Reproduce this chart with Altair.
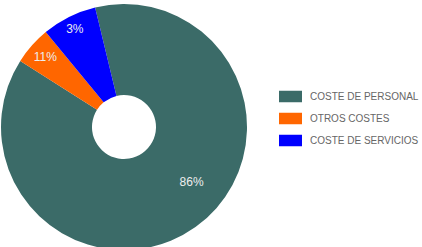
import altair as alt
import pandas as pd

categories = ["COSTE DE PERSONAL", "OTROS COSTES", "COSTE DE SERVICIOS"]
values = [87.8, 5.0, 7.2]
labels = ["86%", "11%", "3%"]
colors = ["#3b6b68", "#ff6600", "#0000ff"]

df = pd.DataFrame({
    "cat": categories,
    "val": values,
    "lab": labels,
    "order": [0, 1, 2],
})

start = -0.237
theta_scale = alt.Scale(range=[start, start + 6.283185307])

arcs = alt.Chart(df).mark_arc(outerRadius=123, innerRadius=32, stroke=None).encode(
    theta=alt.Theta("val:Q", stack=True, scale=theta_scale),
    order=alt.Order("order:Q"),
    x=alt.value(124),
    y=alt.value(127),
    color=alt.Color(
        "cat:N",
        scale=alt.Scale(domain=categories, range=colors),
        sort=categories,
        legend=alt.Legend(
            title=None,
            orient="none",
            legendX=279,
            legendY=85,
            symbolType="M-1,-0.5L1,-0.5L1,0.5L-1,0.5Z",
            symbolSize=529,
            symbolStrokeWidth=0,
            labelFont="Liberation Sans",
            labelFontSize=10,
            labelColor="#666666",
            labelOffset=8,
            rowPadding=4,
            padding=0,
        ),
    ),
)

text = (
    alt.Chart(df)
    .transform_window(cum="sum(val)", sort=[alt.SortField("order")], frame=[None, 0])
    .transform_joinaggregate(total="sum(val)")
    .transform_calculate(
        mid=f"{start} + (datum.cum - datum.val / 2) / datum.total * 2 * PI"
        " + (datum.order == 0 ? -0.27 : 0)",
        rad="datum.order == 0 ? 87 : (datum.order == 1 ? 105 : 110)",
    )
    .mark_text(font="Liberation Sans", fontSize=12, color="#eeeeee")
    .encode(
        theta=alt.Theta("mid:Q", scale=None),
        x=alt.value(124),
        y=alt.value(127),
        radius=alt.Radius("rad:Q", scale=None),
        text="lab:N",
    )
)

chart = (arcs + text).properties(
    width=422, height=247, padding=0, autosize="none"
).configure_view(stroke=None)

chart.save("out.html", embed_options={"renderer": "svg", "actions": False})
